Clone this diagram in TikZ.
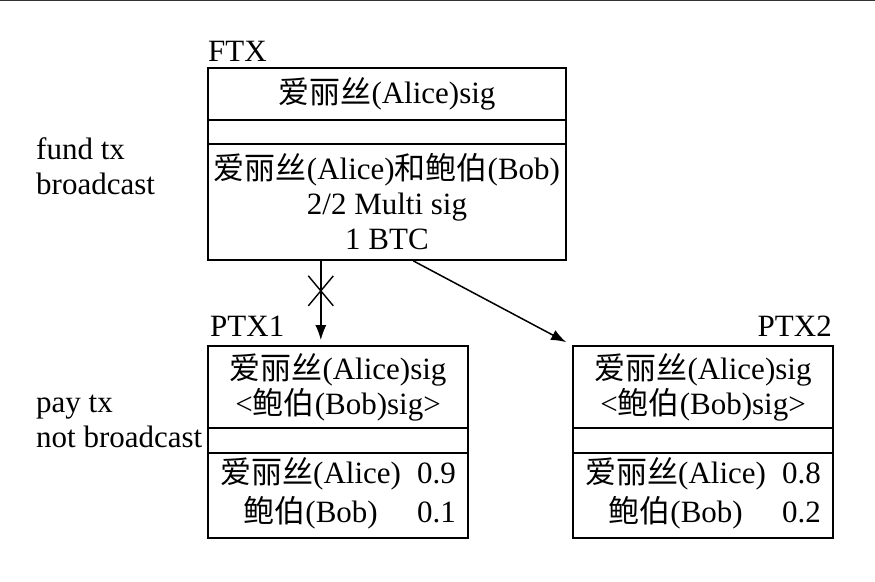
\documentclass[tikz,border=0pt]{standalone}
\usepackage{fontspec}
\setmainfont{Liberation Serif}
\newfontfamily\cjk{Noto Sans CJK SC}
\usetikzlibrary{calc,arrows.meta}
\newcommand{\zh}[1]{{\cjk #1}}
\tikzset{
	box/.style={draw,line width=1.7pt,inner sep=0pt,align=center},
	link/.style={line width=1.5pt,-{Latex[length=15pt,width=11pt]}},
}

\begin{document}
\begin{tikzpicture}[x=1pt,y=-1pt,font=\fontsize{31}{35}\selectfont]
	\useasboundingbox (0,0) rectangle (875,581);
	\draw[line width=1.5pt,black!80] (0,0.7)--(875,0.7);
	
	% fund tx
	\node[anchor=base west,inner sep=0] (ftxname) at (208,61) {FTX};
	\node[box,minimum width=358pt,minimum height=52pt] (ftxa) at (387,94) {\zh{爱丽丝}(Alice)sig};
	\node[box,minimum width=358pt,minimum height=24pt] (ftxb) at (387,132) {};
	\node[box,minimum width=358pt,minimum height=116pt] (ftxc) at (387,202)
		{\zh{爱丽丝}(Alice)\zh{和鲍伯}(Bob)\\2/2 Multi sig\\1 BTC};
	\node[anchor=west,align=left,inner sep=0] (fundnote) at (36,166) {fund tx\\broadcast};
	
	% pay tx
	\foreach \n/\cx/\va/\vb/\side/\lx in {1/338/0.9/0.1/west/210,
		2/703/0.8/0.2/east/832%
	}
	{
		\node[anchor=base \side,inner sep=0] (ptxname\n) at (\lx,336) {PTX\n};
		\node[box,minimum width=260pt,minimum height=82pt] (ptxa\n) at (\cx,387)
			{\zh{爱丽丝}(Alice)sig\\<\zh{鲍伯}(Bob)sig>};
		\node[box,minimum width=260pt,minimum height=25pt] (ptxb\n) at (\cx,440.5) {};
		\node[box,minimum width=260pt,minimum height=85pt] (ptxc\n) at (\cx,495.5)
			{\begin{tabular}{@{}c@{\hspace{16pt}}c@{}}\zh{爱丽丝}(Alice)&\va\\[2pt]\zh{鲍伯}(Bob)&\vb\end{tabular}};
	};
	\node[anchor=west,align=left,inner sep=0] (paynote) at (36,421) {pay tx\\not broadcast};
	
	% arrows
	\coordinate (down) at ($(ftxc.south west)!0.316!(ftxc.south east)$);
	\coordinate (cross) at ($(down)+(0,30)$);
	\draw[link,shorten >=5pt] (down)--(down |- ptxa1.north);
	\draw[line width=1.4pt] ($(cross)+(-12.5,-15)$)--($(cross)+(12.5,15)$)
		($(cross)+(-12.5,15)$)--($(cross)+(12.5,-15)$);
	\coordinate (side) at ($(ftxc.south west)!0.573!(ftxc.south east)$);
	\draw[link] (side)--($(ptxa2.north west)+(-6,-3)$);
	
\end{tikzpicture}
\end{document}
